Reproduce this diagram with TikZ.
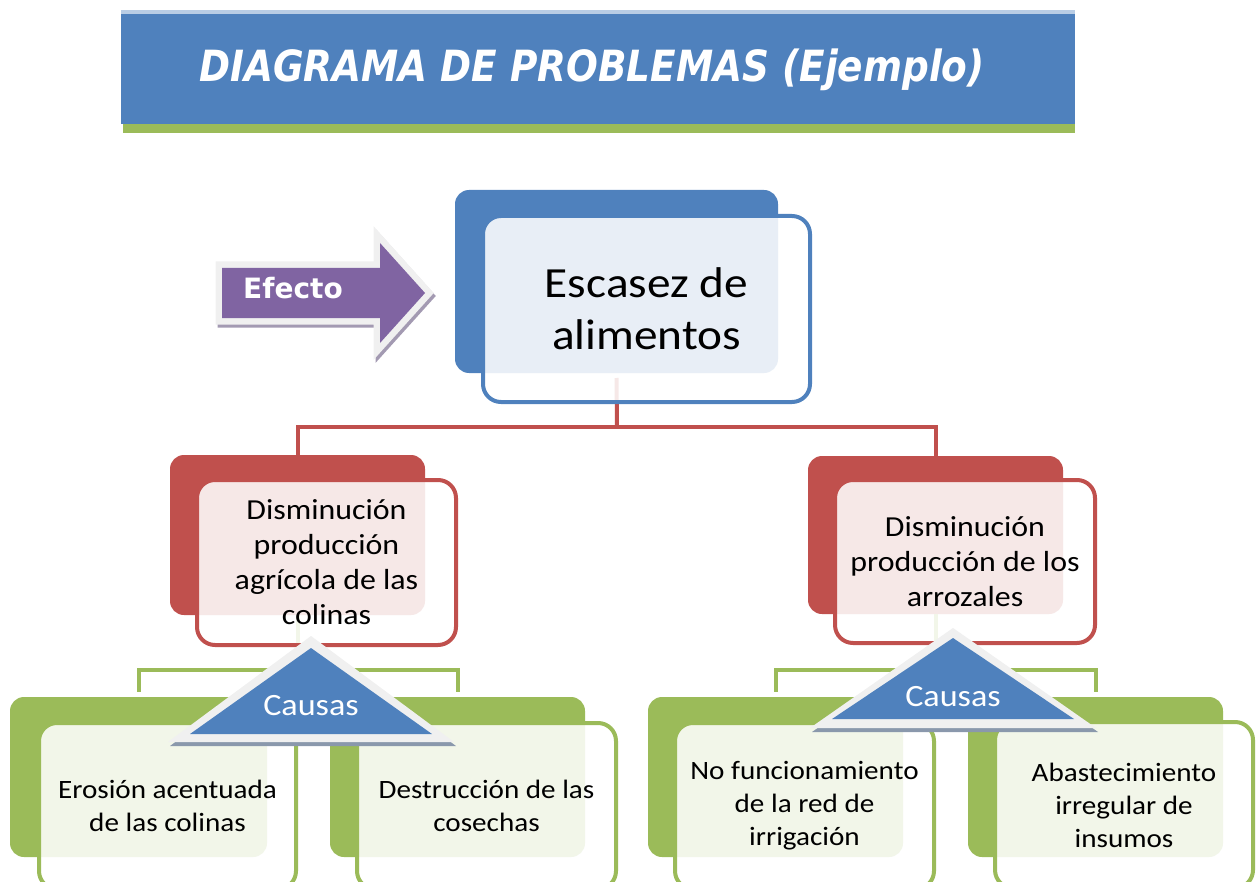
\documentclass[tikz,border=0pt]{standalone}
\usepackage{fontspec}
\usetikzlibrary{calc}
\setmainfont{Carlito}[FakeStretch=1.1]
\newfontfamily\titlefont{DejaVu Sans Bold Oblique}[FakeStretch=0.87]
\newfontfamily\efectofont{DejaVu Sans Bold}
\definecolor{blueM}{HTML}{4F81BD}
\definecolor{redM}{HTML}{C0504D}
\definecolor{greenM}{HTML}{9BBB59}
\definecolor{purpleM}{HTML}{8064A2}
\definecolor{bandTop}{HTML}{B9CDE5}
\definecolor{rimC}{HTML}{F0F0F0}
\definecolor{shadowC}{HTML}{8A98AC}
\definecolor{ashadowC}{HTML}{A39AB2}
\begin{document}
\begin{tikzpicture}[x=1pt,y=-1pt,
  back/.style={draw=none, rounded corners=14pt, inner sep=0pt},
  front/.style={rounded corners=18pt, line width=4pt, fill=white, fill opacity=0.87, text opacity=1, inner sep=0pt, align=center, text=black},
  conn/.style={line width=4pt},
  topfont/.style={font=\fontsize{43}{52}\selectfont},
  midfont/.style={font=\fontsize{29}{35}\selectfont},
  lowfont/.style={font=\fontsize{26.5}{33}\selectfont},
  causas/.style={text=white, inner sep=0pt, font=\fontsize{31}{36}\selectfont},
]
\useasboundingbox (0,0) rectangle (1257,882);
\clip (0,0) rectangle (1257,882);

% title band
\fill[bandTop] (121,10) rectangle (1075,15);
\fill[blueM] (121,14) rectangle (1075,124);
\fill[greenM] (123,124) rectangle (1075,133);
\node[text=white, inner sep=0pt, font=\titlefont\fontsize{43}{48}\selectfont] (title) at (592,70) {DIAGRAMA DE PROBLEMAS (Ejemplo)};

% back boxes
\node[back, fill=blueM, minimum width=323pt, minimum height=183pt] (topB) at (616.5,281.5) {};
\node[back, fill=redM, minimum width=255pt, minimum height=160pt] (redLB) at (297.5,535) {};
\node[back, fill=redM, minimum width=255pt, minimum height=158pt] (redRB) at (935.5,535) {};
\node[back, fill=greenM, minimum width=257pt, minimum height=160pt] (eroB) at (138.5,777) {};
\node[back, fill=greenM, minimum width=255pt, minimum height=160pt] (desB) at (457.5,777) {};
\node[back, fill=greenM, minimum width=255pt, minimum height=160pt] (noB) at (775.5,777) {};
\node[back, fill=greenM, minimum width=255pt, minimum height=160pt] (abaB) at (1095.5,777) {};

% connectors
\coordinate (rj) at (617,427);
\draw[conn, redM] (topB.south |- 0,378) -- (rj);
\draw[conn, redM] (redLB.north) |- (rj) -| (redRB.north);
\coordinate (gjL) at (297.5,670);
\coordinate (gjR) at (935.5,670);
\draw[conn, greenM] (redLB.south) -- (gjL);
\draw[conn, greenM, shorten <=5pt] (eroB.north) |- (gjL) -| ([yshift=5pt]desB.north);
\draw[conn, greenM] (redRB.south) -- (gjR);
\draw[conn, greenM, shorten <=5pt] (noB.north) |- (gjR) -| ([yshift=5pt]abaB.north);

% front boxes
\node[front, draw=blueM, minimum width=327pt, minimum height=186pt, topfont] (topF) at (646.5,309) {Escasez de\\alimentos};
\node[front, draw=redM, minimum width=259pt, minimum height=165pt, midfont] (redLF) at (326.5,562.5) {Disminución\\producción\\agrícola de las\\colinas};
\node[front, draw=redM, minimum width=260pt, minimum height=163pt, midfont] (redRF) at (965,561.5) {Disminución\\producción de los\\arrozales};
\node[front, draw=greenM, minimum width=257pt, minimum height=166pt, lowfont] (eroF) at (167.5,806) {Erosión acentuada\\de las colinas};
\node[front, draw=greenM, minimum width=259pt, minimum height=166pt, lowfont] (desF) at (486.5,806) {Destrucción de las\\cosechas};
\node[front, draw=greenM, minimum width=259pt, minimum height=166pt, lowfont] (noF) at (804.5,806) {No funcionamiento\\de la red de\\irrigación};
\node[front, draw=greenM, minimum width=258pt, minimum height=166pt, lowfont] (abaF) at (1124,805) {Abastecimiento\\irregular de\\insumos};

% Causas triangles
\coordinate (cL) at (311,706);
\fill[shadowC] ($(cL)+(2,-66)$) -- ($(cL)+(145,40)$) -- ($(cL)+(-141,40)$) -- cycle;
\fill[rimC] ($(cL)+(0,-70)$) -- ($(cL)+(143,36)$) -- ($(cL)+(-143,36)$) -- cycle;
\fill[blueM] ($(cL)+(0,-58)$) -- ($(cL)+(121,28)$) -- ($(cL)+(-121,28)$) -- cycle;
\node[causas] (causL) at (cL) {Causas};

\coordinate (cR) at (953,697);
\fill[shadowC] ($(cR)+(2,-65)$) -- ($(cR)+(145,35)$) -- ($(cR)+(-141,35)$) -- cycle;
\fill[rimC] ($(cR)+(0,-69)$) -- ($(cR)+(143,31)$) -- ($(cR)+(-143,31)$) -- cycle;
\fill[blueM] ($(cR)+(0,-59)$) -- ($(cR)+(121,22)$) -- ($(cR)+(-121,22)$) -- cycle;
\node[causas] (causR) at (cR) {Causas};

% Efecto arrow
\begin{scope}[shift={(2,3)}]
\filldraw[ashadowC, line width=13pt, line join=miter] (222,268) -- (380,268) -- (380,243) -- (425,293) -- (380,343) -- (380,318) -- (222,318) -- cycle;
\end{scope}
\filldraw[fill=purpleM, draw=rimC, line width=13pt, line join=miter] (222,268) -- (380,268) -- (380,243) -- (425,293) -- (380,343) -- (380,318) -- (222,318) -- cycle;
\fill[purpleM] (222,268) -- (380,268) -- (380,243) -- (425,293) -- (380,343) -- (380,318) -- (222,318) -- cycle;
\node[text=white, inner sep=0pt, font=\efectofont\fontsize{28}{32}\selectfont] (efecto) at (293,288) {Efecto};
\end{tikzpicture}
\end{document}
